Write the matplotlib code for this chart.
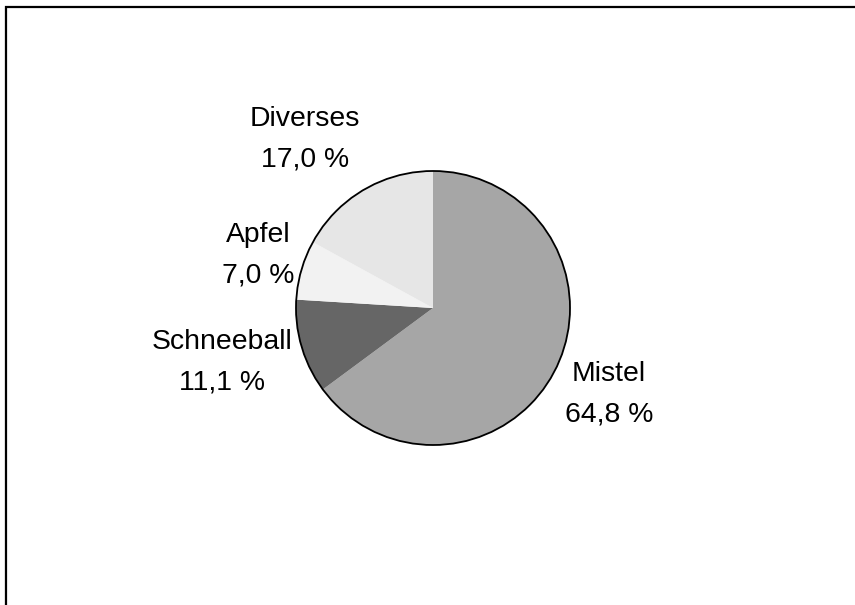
import matplotlib
matplotlib.use("Agg")
import matplotlib.pyplot as plt
from matplotlib.patches import Circle
from matplotlib.lines import Line2D

# slices, clockwise from 12 o'clock
labels = ["Mistel", "Schneeball", "Apfel", "Diverses"]
shares = [64.8, 11.1, 7.0, 17.0]
colors = ["#a6a6a6", "#666666", "#f2f2f2", "#e6e6e6"]

# label anchors (x, baseline of first line) in pie-radius units
label_pos = [(1.285, -0.533), (-1.540, -0.299), (-1.277, 0.482), (-0.934, 1.328)]
LINE_GAP = 0.297

W, H = 855, 605
fig = plt.figure(figsize=(W / 100, H / 100), dpi=100)
fig.patch.set_facecolor("white")

# pie centre at (433, 308) px, radius 137 px
cx, cy, r_px, half = 433, 308, 137, 280
ax = fig.add_axes([(cx - half) / W, (H - cy - half) / H, 2 * half / W, 2 * half / H])
lim = half / r_px
ax.set_xlim(-lim, lim)
ax.set_ylim(-lim, lim)
ax.set_aspect("equal")
ax.axis("off")

ax.pie(shares, colors=colors, startangle=90, counterclock=False, radius=1,
       wedgeprops=dict(linewidth=0), frame=True)
ax.set_xlim(-lim, lim)
ax.set_ylim(-lim, lim)
ax.axis("off")
ax.add_patch(Circle((0, 0), 1, fill=False, ec="black", lw=1.3, zorder=5))

for name, val, (x, y) in zip(labels, shares, label_pos):
    pct = f"{val:.1f}".replace(".", ",") + " %"
    ax.text(x, y, name, ha="center", va="baseline", fontsize=20.4,
            family="Liberation Sans", color="black")
    ax.text(x, y - LINE_GAP, pct, ha="center", va="baseline", fontsize=20.4,
            family="Liberation Sans", color="black")

# chart border (only top and left edges fall inside the image) + faint shadow
fig.add_artist(Line2D([4.5 / W, 4.5 / W], [0, 1 - 8 / H], transform=fig.transFigure,
                      color="#b0b0b0", lw=0.8))
fig.add_artist(Line2D([6 / W, 6 / W, 1], [0, 1 - 6.5 / H, 1 - 6.5 / H],
                      transform=fig.transFigure, color="black", lw=1.6,
                      solid_joinstyle="miter"))

fig.savefig("out.png", dpi=100, facecolor="white")
